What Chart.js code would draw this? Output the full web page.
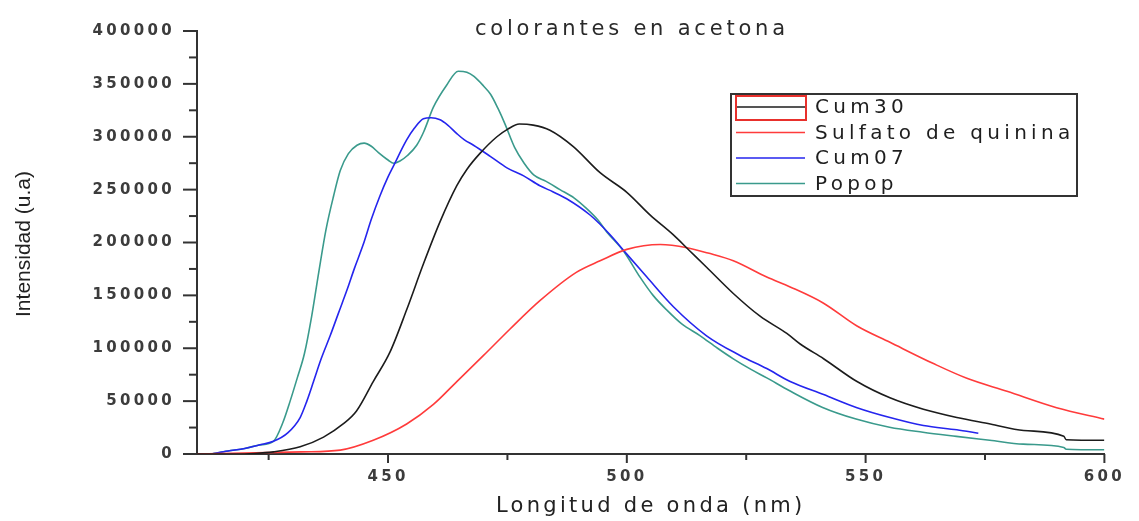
<!DOCTYPE html>
<html>
<head>
<meta charset="utf-8">
<script src="https://cdn.jsdelivr.net/npm/chart.js@4.4.1/dist/chart.umd.min.js"></script>
<style>
  html, body { margin: 0; padding: 0; background: #fff; }
  #wrap { width: 1139px; height: 521px; }
</style>
</head>
<body>
<div id="wrap"><canvas id="c" width="1139" height="521"></canvas></div>
<script>
const chartTitle = 'colorantes en acetona';
const xTitle = 'Longitud de onda (nm)';
const yTitle = 'Intensidad (u.a)';

// series, wavelength (nm) / intensity
const cum30Nm = [410, 418, 422, 426, 431.6, 436.5, 440.6, 443.4, 446.9, 450.4, 453.9, 457.4, 460.9, 464.4, 466.5, 469.3, 472.8, 475, 477.5, 480.4, 483.9, 488.8, 494.4, 500, 504.9, 509.7, 513.2, 516.7, 522.3, 527.9, 533.5, 536.3, 541.2, 548.2, 555.1, 562.1, 569.1, 576.1, 583.1, 591.5, 592, 600];
const cum30Val = [0, 0, 500, 2000, 6800, 16000, 28400, 40700, 68500, 96300, 136400, 179600, 219700, 253700, 269100, 284500, 300000, 307000, 312000, 311000, 306200, 290700, 266000, 247500, 225900, 207400, 192000, 176600, 151800, 130300, 114000, 104000, 90100, 68500, 53100, 42300, 34500, 28400, 22200, 16700, 13500, 13000];

const quininaNm = [410, 432, 440, 446.9, 453.9, 459.5, 464.4, 470, 475.5, 481.8, 489.5, 494.4, 500, 507, 512.6, 517, 522.3, 529.3, 534.2, 541.2, 548.2, 555.1, 564.2, 571.2, 579.6, 590, 600];
const quininaVal = [0, 2000, 3700, 13000, 28400, 46900, 68500, 93200, 118000, 145000, 172000, 182700, 193500, 198100, 195100, 190000, 182700, 167300, 158000, 142600, 121000, 105600, 85500, 71600, 59300, 43800, 33000];

const cum07Nm = [413, 416.5, 420, 423, 426, 429, 431.6, 433, 434.4, 436, 437.9, 439.6, 441.4, 443, 444.8, 446.5, 448.3, 450, 451.1, 453.9, 455.5, 457.4, 459, 460.9, 462.5, 464.4, 466, 467.9, 471.4, 474.9, 478.4, 481.8, 484.5, 487.4, 492.3, 496.5, 500, 504.2, 509.7, 516.7, 523.7, 529.3, 534.2, 541.2, 548.2, 555.1, 562.1, 569.1, 573.6];
const cum07Val = [0, 2800, 5200, 8500, 12000, 20000, 34500, 50000, 68500, 90000, 112000, 133000, 155000, 176000, 198000, 222000, 244000, 262000, 272000, 297000, 308000, 317000, 318000, 316000, 311000, 303000, 297000, 292000, 281500, 270600, 263000, 253700, 248000, 241400, 226000, 207400, 189000, 167300, 139500, 111800, 93200, 80800, 68500, 56200, 43800, 34500, 26900, 22900, 19700];

const popopNm = [413, 416.5, 420, 423, 426, 428, 429.5, 431, 432.5, 434, 435.5, 437, 438.6, 440, 441.7, 443.5, 445, 446.5, 448, 450, 451.2, 452.5, 454, 456, 457.5, 459.5, 462.3, 464.7, 466.5, 468, 470, 471.5, 473, 474.5, 476.5, 478.5, 480.5, 483, 486, 489, 491.6, 494, 495.8, 499.3, 502.8, 505.5, 508.4, 511.5, 515.3, 519, 522.3, 526, 529.3, 534, 541, 548, 555, 562, 569, 576, 583, 591.5, 592, 600];
const popopVal = [0, 2800, 5200, 8500, 12000, 30000, 50000, 72000, 95000, 130000, 172000, 212000, 244000, 268000, 284000, 292000, 294000, 291000, 285000, 278000, 275000, 277000, 282000, 292000, 305000, 328000, 349000, 362000, 361000, 357000, 348000, 340000, 327000, 312000, 290000, 275000, 264000, 258000, 250000, 242000, 232000, 221000, 210000, 192000, 167000, 150000, 136000, 123000, 112000, 100000, 90000, 80000, 72000, 60000, 44000, 33000, 25300, 20600, 16700, 13000, 9300, 6200, 4500, 4000];

// ticks (minor ones get no label)
const xTicks = [425, 450, 475, 500, 525, 550, 575, 600];
const yTicks = [0, 25000, 50000, 75000, 100000, 125000, 150000, 175000, 200000, 225000, 250000, 275000, 300000, 325000, 350000, 375000, 400000];

const pts = (xs, ys) => xs.map((x, i) => ({ x: x, y: ys[i] }));

const SPACING = '3.3px';
const tickFont = { family: 'DejaVu Sans', size: 15, weight: 'bold' };

// wide text like the original (stretched picture)
const spacingPlugin = {
  id: 'spacing',
  beforeUpdate(chart) { chart.ctx.letterSpacing = SPACING; },
  beforeDraw(chart) { chart.ctx.letterSpacing = SPACING; }
};

const extrasPlugin = {
  id: 'extras',
  afterDraw(chart) {
    const { ctx, chartArea: ca, scales: { x, y } } = chart;
    ctx.save();
    // tick marks, outward
    ctx.strokeStyle = '#333';
    ctx.lineWidth = 2;
    x.ticks.forEach(t => {
      const px = x.getPixelForValue(t.value);
      const len = t.value % 50 === 0 ? 9 : 6;
      ctx.beginPath(); ctx.moveTo(px, ca.bottom); ctx.lineTo(px, ca.bottom + len); ctx.stroke();
    });
    y.ticks.forEach(t => {
      const py = y.getPixelForValue(t.value);
      const len = t.value % 50000 === 0 ? 14 : 8;
      ctx.beginPath(); ctx.moveTo(ca.left, py); ctx.lineTo(ca.left - len, py); ctx.stroke();
    });

    // chart title
    ctx.letterSpacing = '3.8px';
    ctx.fillStyle = '#2a2a2a';
    ctx.font = '21px "DejaVu Sans"';
    ctx.textBaseline = 'alphabetic';
    ctx.textAlign = 'left';
    const tw = ctx.measureText(chartTitle).width - 3.8;
    ctx.fillText(chartTitle, 630 - tw / 2, 35);

    // y axis title, no spacing
    ctx.letterSpacing = '0px';
    ctx.save();
    ctx.translate(24, 244);
    ctx.rotate(-Math.PI / 2);
    ctx.textAlign = 'center';
    ctx.textBaseline = 'middle';
    ctx.font = '21px "Liberation Sans"';
    ctx.fillStyle = '#222';
    ctx.fillText(yTitle, 0, 0);
    ctx.restore();

    // legend box
    const bx = ca.left + 534, by = ca.top + 63, bw = 346, bh = 102;
    ctx.strokeStyle = '#333';
    ctx.lineWidth = 2;
    ctx.strokeRect(bx, by, bw, bh);
    ctx.letterSpacing = '4.3px';
    ctx.font = '20px "DejaVu Sans"';
    ctx.textAlign = 'left';
    ctx.textBaseline = 'middle';
    chart.data.datasets.forEach((ds, i) => {
      const ry = by + 13 + i * 25.5;
      ctx.strokeStyle = ds.borderColor;
      ctx.lineWidth = 1.6;
      ctx.beginPath(); ctx.moveTo(bx + 5, ry); ctx.lineTo(bx + 74, ry); ctx.stroke();
      ctx.fillStyle = '#1e1e1e';
      ctx.fillText(ds.label, bx + 84, ry + 1);
    });
    // red selection frame around first sample
    ctx.strokeStyle = '#e8302c';
    ctx.lineWidth = 2;
    ctx.strokeRect(bx + 5, by + 2, 70, 24);
    ctx.restore();
  }
};

new Chart(document.getElementById('c'), {
  type: 'line',
  data: {
    datasets: [
      { label: 'Cum30', data: pts(cum30Nm, cum30Val), borderColor: '#1c1c1c' },
      { label: 'Sulfato de quinina', data: pts(quininaNm, quininaVal), borderColor: '#ff3b3b' },
      { label: 'Cum07', data: pts(cum07Nm, cum07Val), borderColor: '#2525ee' },
      { label: 'Popop', data: pts(popopNm, popopVal), borderColor: '#3a9a8c' }
    ]
  },
  options: {
    responsive: false,
    animation: false,
    events: [],
    layout: { padding: { top: 22, right: 33, left: 0, bottom: 0 } },
    elements: {
      point: { radius: 0 },
      line: { borderWidth: 1.6, cubicInterpolationMode: 'monotone', fill: false }
    },
    plugins: { legend: { display: false }, tooltip: { enabled: false }, title: { display: false } },
    scales: {
      x: {
        type: 'linear', min: 410, max: 600,
        afterBuildTicks: s => { s.ticks = xTicks.map(v => ({ value: v })); },
        afterFit: s => { s.height = 67; },
        grid: { display: true, drawOnChartArea: false, drawTicks: false },
        border: { color: '#333', width: 2 },
        ticks: {
          autoSkip: false, maxRotation: 0, padding: 14,
          color: '#3c3c3c', font: tickFont,
          callback: v => (v % 50 === 0 ? String(v) : '')
        },
        title: {
          display: true, text: xTitle, color: '#222',
          font: { family: 'DejaVu Sans', size: 21 },
          padding: { top: 0, bottom: 2 }
        }
      },
      y: {
        type: 'linear', min: 0, max: 400000,
        afterBuildTicks: s => { s.ticks = yTicks.map(v => ({ value: v })); },
        afterFit: s => { s.width = 197; },
        grid: { display: true, drawOnChartArea: false, drawTicks: false },
        border: { color: '#333', width: 2 },
        ticks: {
          autoSkip: false, padding: 22,
          color: '#3c3c3c', font: tickFont,
          callback: v => (v % 50000 === 0 ? String(v) : '')
        }
      }
    }
  },
  plugins: [spacingPlugin, extrasPlugin]
});
</script>
</body>
</html>
